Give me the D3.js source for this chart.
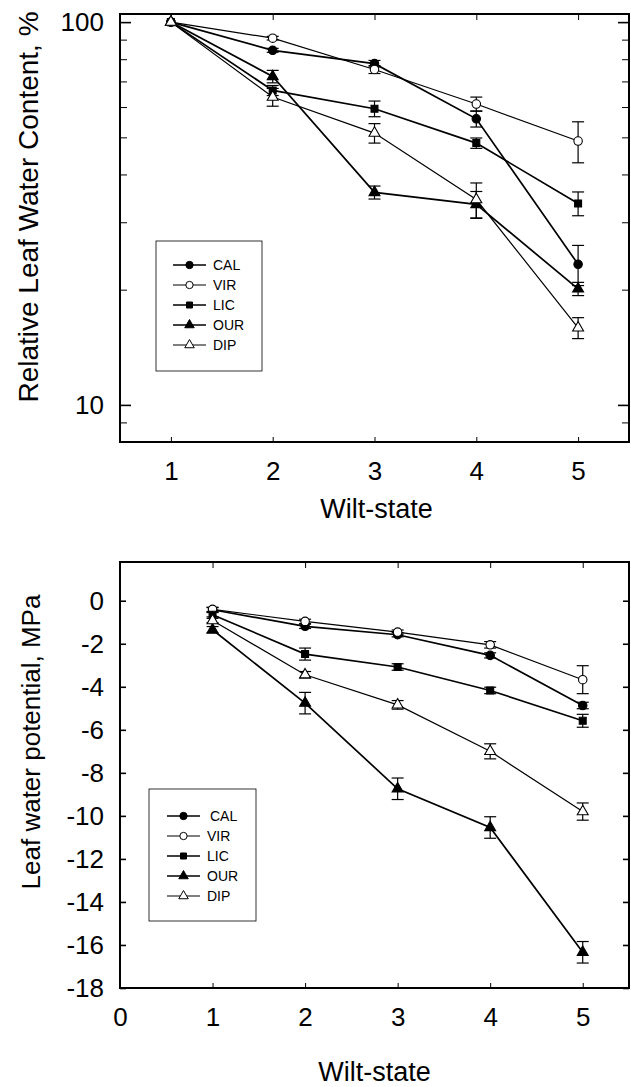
<!DOCTYPE html>
<html>
<head>
<meta charset="UTF-8"/>
<title>Wilt-state</title>
<script src="https://d3js.org/d3.v7.min.js"></script>
<style>
  body { margin: 0; background: #fff; }
  svg { display: block; font-family: "Liberation Sans", Arial, sans-serif; }
  .axis path, .axis line { stroke: #000; }
  .axis text { fill: #000; }
</style>
</head>
<body>
<svg id="chart" width="631" height="1087"></svg>
<script>
  // wilt-states and series
  var wiltStates = [1, 2, 3, 4, 5];
  var seriesNames = ["CAL", "VIR", "LIC", "OUR", "DIP"];

  // relative leaf water content, %
  var rwcCAL = [100, 84.4, 77.9, 55.9, 23.3];
  var rwcVIR = [100, 90.8, 75.2, 61.1, 48.9];
  var rwcLIC = [100, 66.3, 59.4, 48.3, 33.6];
  var rwcOUR = [100, 72.1, 35.9, 33.4, 20.1];
  var rwcDIP = [100, 63.7, 51.3, 34.4, 15.9];
  var rwcErrCAL = [0, 1.0, 1.5, 2.7, 2.8];
  var rwcErrVIR = [0, 1.0, 1.8, 2.6, 6.0];
  var rwcErrLIC = [0, 2.0, 2.8, 1.5, 2.4];
  var rwcErrOUR = [0, 2.7, 1.4, 2.7, 0.8];
  var rwcErrDIP = [0, 3.4, 3.0, 3.6, 1.0];

  // leaf water potential, MPa
  var lwpCAL = [-0.42, -1.19, -1.58, -2.54, -4.87];
  var lwpVIR = [-0.40, -0.96, -1.46, -2.05, -3.67];
  var lwpLIC = [-0.65, -2.48, -3.08, -4.17, -5.58];
  var lwpOUR = [-1.35, -4.76, -8.74, -10.54, -16.34];
  var lwpDIP = [-0.92, -3.44, -4.84, -7.0, -9.8];
  var lwpErrCAL = [0.1, 0.1, 0.1, 0.12, 0.15];
  var lwpErrVIR = [0.1, 0.1, 0.1, 0.15, 0.65];
  var lwpErrLIC = [0.1, 0.28, 0.15, 0.15, 0.3];
  var lwpErrOUR = [0.15, 0.5, 0.5, 0.5, 0.5];
  var lwpErrDIP = [0.1, 0.15, 0.2, 0.35, 0.4];

  // axis ticks
  var rwcMajorTicks = [10, 100];
  var rwcMinorTicks = [9, 20, 30, 40, 50, 60, 70, 80, 90];
  var lwpTicks = [0, -2, -4, -6, -8, -10, -12, -14, -16, -18];

  var styles = {
    CAL: { shape: d3.symbolCircle, fill: "#000", width: 1.7 },
    VIR: { shape: d3.symbolCircle, fill: "#fff", width: 1.2 },
    LIC: { shape: d3.symbolSquare, fill: "#000", width: 1.7 },
    OUR: { shape: d3.symbolTriangle, fill: "#000", width: 1.7 },
    DIP: { shape: d3.symbolTriangle, fill: "#fff", width: 1.2 }
  };

  // plain hyphen minus, like the original figure
  var plain = function(d) { return String(d); };

  function buildSeries(vals, errs) {
    return seriesNames.map(function(name, k) {
      return {
        name: name,
        points: wiltStates.map(function(w, i) {
          return { x: w, y: vals[k][i], e: errs[k][i] };
        })
      };
    });
  }

  var rwcSeries = buildSeries([rwcCAL, rwcVIR, rwcLIC, rwcOUR, rwcDIP],
                              [rwcErrCAL, rwcErrVIR, rwcErrLIC, rwcErrOUR, rwcErrDIP]);
  var lwpSeries = buildSeries([lwpCAL, lwpVIR, lwpLIC, lwpOUR, lwpDIP],
                              [lwpErrCAL, lwpErrVIR, lwpErrLIC, lwpErrOUR, lwpErrDIP]);

  var svg = d3.select("#chart");

  function symbolSize(name) {
    return styles[name].shape === d3.symbolTriangle ? 52 : (styles[name].shape === d3.symbolSquare ? 48 : 56);
  }

  function drawPanel(opt) {
    var g = svg.append("g");
    var x = opt.x, y = opt.y;
    var x0 = x.range()[0], x1 = x.range()[1], yTop = y.range()[1], yBot = y.range()[0];

    // frame
    g.append("rect")
      .attr("x", x0).attr("y", yTop)
      .attr("width", x1 - x0).attr("height", yBot - yTop)
      .attr("fill", "none").attr("stroke", "#000").attr("stroke-width", 2);

    // x axes (bottom labelled, top ticks only)
    g.append("g").attr("class", "axis")
      .attr("transform", "translate(0," + yBot + ")")
      .call(d3.axisBottom(x).tickValues(opt.xTicks).tickSizeInner(-5).tickSizeOuter(0).tickPadding(20).tickFormat(plain))
      .call(function(a) { a.select(".domain").remove(); })
      .selectAll("text").attr("font-size", 26).style("font-family", "Liberation Sans, Arial, sans-serif");
    g.append("g").attr("class", "axis")
      .attr("transform", "translate(0," + yTop + ")")
      .call(d3.axisTop(x).tickValues(wiltStates).tickSizeInner(-6).tickSizeOuter(0).tickFormat(""))
      .call(function(a) { a.select(".domain").remove(); });

    // y axes
    var left = g.append("g").attr("class", "axis")
      .attr("transform", "translate(" + x0 + ",0)")
      .call(d3.axisLeft(y).tickValues(opt.yTicks).tickSizeInner(-opt.majorLen).tickSizeOuter(0).tickPadding(16).tickFormat(plain))
      .call(function(a) { a.select(".domain").remove(); });
    left.selectAll("line").attr("stroke-width", 1.6);
    left.selectAll("text").attr("font-size", 26).style("font-family", "Liberation Sans, Arial, sans-serif");
    g.append("g").attr("class", "axis")
      .attr("transform", "translate(" + x1 + ",0)")
      .call(d3.axisRight(y).tickValues(opt.yTicks).tickSizeInner(-opt.majorLen).tickSizeOuter(0).tickFormat(""))
      .call(function(a) { a.select(".domain").remove(); a.selectAll("line").attr("stroke-width", 1.6); });
    if (opt.minor) {
      g.append("g").attr("class", "axis")
        .attr("transform", "translate(" + x0 + ",0)")
        .call(d3.axisLeft(y).tickValues(opt.minor).tickSizeInner(-7).tickSizeOuter(0).tickFormat(""))
        .call(function(a) { a.select(".domain").remove(); });
      g.append("g").attr("class", "axis")
        .attr("transform", "translate(" + x1 + ",0)")
        .call(d3.axisRight(y).tickValues(opt.minor).tickSizeInner(-7).tickSizeOuter(0).tickFormat(""))
        .call(function(a) { a.select(".domain").remove(); });
    }

    // titles
    g.append("text")
      .attr("transform", "translate(" + opt.yTitleX + "," + opt.yTitleY + ") rotate(-90)")
      .attr("text-anchor", "middle")
      .attr("font-size", opt.yTitleSize)
      .text(opt.yTitle);
    g.append("text")
      .attr("x", (x.range()[0] + x.range()[1]) / 2 + opt.xTitleShift)
      .attr("y", opt.xTitleY)
      .attr("text-anchor", "middle")
      .attr("font-size", 27)
      .text("Wilt-state");

    var line = d3.line().x(function(d) { return x(d.x); }).y(function(d) { return y(d.y); });

    var sg = g.selectAll(".series").data(opt.series).enter().append("g").attr("class", "series");

    sg.append("path")
      .attr("d", function(d) { return line(d.points); })
      .attr("fill", "none").attr("stroke", "#000")
      .attr("stroke-width", function(d) { return styles[d.name].width; });

    // error bars
    sg.each(function(s) {
      var eg = d3.select(this).selectAll(".err").data(s.points.filter(function(p) { return p.e > 0; }))
        .enter().append("g").attr("class", "err").attr("stroke", "#000").attr("stroke-width", 1.2);
      eg.append("line")
        .attr("x1", function(p) { return x(p.x); }).attr("x2", function(p) { return x(p.x); })
        .attr("y1", function(p) { return y(p.y + p.e); }).attr("y2", function(p) { return y(p.y - p.e); });
      eg.append("line")
        .attr("x1", function(p) { return x(p.x) - 6; }).attr("x2", function(p) { return x(p.x) + 6; })
        .attr("y1", function(p) { return y(p.y + p.e); }).attr("y2", function(p) { return y(p.y + p.e); });
      eg.append("line")
        .attr("x1", function(p) { return x(p.x) - 6; }).attr("x2", function(p) { return x(p.x) + 6; })
        .attr("y1", function(p) { return y(p.y - p.e); }).attr("y2", function(p) { return y(p.y - p.e); });
    });

    sg.each(function(s) {
      d3.select(this).selectAll(".pt").data(s.points).enter().append("path")
        .attr("class", "pt")
        .attr("transform", function(p) { return "translate(" + x(p.x) + "," + y(p.y) + ")"; })
        .attr("d", d3.symbol().type(styles[s.name].shape).size(symbolSize(s.name)))
        .attr("fill", styles[s.name].fill).attr("stroke", "#000").attr("stroke-width", 1.1);
    });

    // legend
    var L = opt.legend;
    var lg = g.append("g");
    lg.append("rect")
      .attr("x", L.x).attr("y", L.y).attr("width", L.w).attr("height", L.h)
      .attr("fill", "#fff").attr("stroke", "#000").attr("stroke-width", 0.8);
    seriesNames.forEach(function(name, i) {
      var ry = L.firstRow + i * 20;
      lg.append("line")
        .attr("x1", L.lineX).attr("x2", L.lineX + 33).attr("y1", ry).attr("y2", ry)
        .attr("stroke", "#000").attr("stroke-width", styles[name].width);
      lg.append("path")
        .attr("transform", "translate(" + (L.lineX + 16.5) + "," + ry + ")")
        .attr("d", d3.symbol().type(styles[name].shape).size(symbolSize(name) * 0.75))
        .attr("fill", styles[name].fill).attr("stroke", "#000").attr("stroke-width", 1);
      lg.append("text")
        .attr("x", L.lineX + 40 + (name === "CAL" ? L.calShift : 0)).attr("y", ry + 5)
        .attr("font-size", 14)
        .text(name);
    });
  }

  drawPanel({
    x: d3.scaleLinear().domain([0.5, 5.5]).range([120, 629]),
    y: d3.scaleLog().domain([8, 105]).range([442, 14]),
    xTicks: wiltStates,
    yTicks: rwcMajorTicks,
    minor: rwcMinorTicks,
    majorLen: 11,
    series: rwcSeries,
    yTitle: "Relative Leaf Water Content, %",
    yTitleX: 38, yTitleY: 207, yTitleSize: 28,
    xTitleY: 518, xTitleShift: 2,
    legend: { x: 156, y: 241, w: 106, h: 130, lineX: 173, firstRow: 265, calShift: 0 }
  });

  drawPanel({
    x: d3.scaleLinear().domain([0, 5.5]).range([120, 629]),
    y: d3.scaleLinear().domain([-18, 1.8]).range([988, 562]),
    xTicks: [0, 1, 2, 3, 4, 5],
    yTicks: lwpTicks,
    minor: null,
    majorLen: 6,
    series: lwpSeries,
    yTitle: "Leaf water potential, MPa",
    yTitleX: 40, yTitleY: 742, yTitleSize: 26,
    xTitleY: 1081, xTitleShift: 0,
    legend: { x: 149, y: 789, w: 107, h: 132, lineX: 167, firstRow: 816, calShift: 3 }
  });
</script>
</body>
</html>
